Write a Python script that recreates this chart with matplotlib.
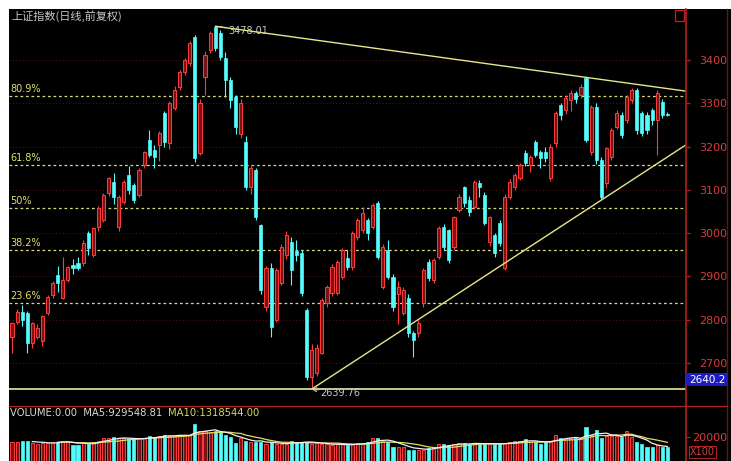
import numpy as np
import pandas as pd
import matplotlib
matplotlib.use("Agg")
import matplotlib.pyplot as plt
from matplotlib.patches import Rectangle
from matplotlib.lines import Line2D

# ---- data ----
opens = [2760, 2795, 2818, 2815, 2746, 2760, 2750, 2815, 2857, 2903,
         2850, 2892, 2926, 2932, 2931, 3000, 2949, 3014, 3030, 3093,
         3118, 3014, 3072, 3134, 3111, 3088, 3157, 3215, 3192, 3203,
         3277, 3208, 3290, 3338, 3372, 3393, 3453, 3185, 3360, 3423,
         3476, 3462, 3405, 3354, 3314, 3230, 3210, 3106, 3146, 3018,
         2829, 2919, 2799, 2885, 2950, 2980, 2958, 2954, 2822, 2668,
         2677, 2723, 2838, 2862, 2862, 2899, 2942, 2922, 2991, 3007,
         3030, 3014, 3070, 2875, 2961, 2899, 2860, 2815, 2850, 2769,
         2769, 2838, 2933, 2892, 2945, 3014, 3007, 2968, 3053, 3106,
         3076, 3060, 3116, 3088, 2980, 2995, 3023, 2920, 3083, 3106,
         3127, 3185, 3157, 3210, 3187, 3187, 3127, 3208, 3296, 3284,
         3307, 3324, 3319, 3358, 3187, 3291, 3169, 3115, 3176, 3245,
         3273, 3261, 3307, 3330, 3277, 3273, 3284, 3261, 3303, 3275]
highs = [2795, 2825, 2835, 2820, 2795, 2790, 2812, 2856, 2890, 2925,
         2945, 2925, 2940, 2945, 2985, 3005, 3015, 3062, 3092, 3130,
         3140, 3088, 3122, 3155, 3115, 3150, 3190, 3238, 3203, 3235,
         3282, 3305, 3340, 3378, 3405, 3445, 3458, 3310, 3420, 3468,
         3478.01, 3470, 3418, 3360, 3318, 3310, 3225, 3155, 3150, 3020,
         2925, 2930, 2920, 2975, 3005, 2990, 2985, 2960, 2826, 2745,
         2745, 2850, 2880, 2928, 2938, 2965, 2961, 3005, 3035, 3060,
         3035, 3070, 3075, 2975, 2984, 2905, 2890, 2875, 2860, 2775,
         2800, 2920, 2940, 2942, 3016, 3020, 3010, 3040, 3090, 3110,
         3085, 3122, 3123, 3095, 3040, 3000, 3030, 3090, 3125, 3140,
         3162, 3192, 3180, 3215, 3192, 3200, 3205, 3282, 3300, 3320,
         3330, 3328, 3345, 3360, 3295, 3300, 3175, 3200, 3242, 3285,
         3280, 3320, 3335, 3335, 3282, 3280, 3290, 3330, 3310, 3280]
lows = [2723, 2790, 2785, 2723, 2735, 2755, 2740, 2812, 2850, 2865,
        2848, 2888, 2905, 2915, 2925, 2950, 2945, 3005, 3025, 3085,
        3067, 3005, 3068, 3090, 3070, 3083, 3150, 3175, 3150, 3167,
        3200, 3195, 3285, 3330, 3365, 3385, 3165, 3180, 3320, 3415,
        3420, 3400, 3315, 3290, 3230, 3220, 3100, 3090, 3030, 2860,
        2820, 2760, 2795, 2880, 2940, 2880, 2935, 2855, 2660, 2639.76,
        2670, 2720, 2830, 2855, 2858, 2895, 2915, 2915, 2985, 3000,
        2984, 3010, 2940, 2870, 2895, 2820, 2790, 2810, 2760, 2714,
        2760, 2830, 2890, 2885, 2940, 2960, 2930, 2960, 3048, 3060,
        3040, 3055, 3083, 3018, 2970, 2945, 2970, 2915, 3078, 3100,
        3122, 3155, 3141, 3175, 3150, 3165, 3120, 3200, 3262, 3275,
        3282, 3300, 3312, 3210, 3180, 3160, 3079, 3105, 3170, 3240,
        3220, 3255, 3300, 3230, 3225, 3230, 3250, 3180, 3265, 3270]
closes = [2792, 2818, 2799, 2746, 2792, 2781, 2808, 2852, 2885, 2885,
          2892, 2922, 2919, 2920, 2977, 2965, 3012, 3058, 3088, 3127,
          3083, 3083, 3118, 3100, 3077, 3146, 3187, 3180, 3176, 3231,
          3210, 3300, 3331, 3372, 3400, 3439, 3174, 3300, 3411, 3462,
          3428, 3407, 3354, 3308, 3245, 3300, 3106, 3150, 3037, 2868,
          2919, 2783, 2915, 2968, 2995, 2915, 2950, 2862, 2668, 2730,
          2735, 2845, 2875, 2922, 2933, 2961, 2922, 3000, 3030, 3046,
          3000, 3065, 2945, 2968, 2899, 2829, 2875, 2868, 2769, 2753,
          2792, 2915, 2896, 2938, 3012, 2968, 2938, 3037, 3083, 3069,
          3049, 3118, 3106, 3023, 3037, 2954, 2977, 3083, 3118, 3134,
          3157, 3162, 3176, 3180, 3173, 3173, 3199, 3277, 3273, 3312,
          3324, 3310, 3338, 3215, 3291, 3169, 3083, 3196, 3238, 3277,
          3226, 3314, 3330, 3238, 3231, 3238, 3261, 3324, 3273, 3273]
volumes = [16000, 16000, 17000, 17000, 15000, 14000, 15000, 15000, 16000, 16000,
           17000, 16000, 13000, 13000, 16000, 14000, 16000, 17000, 19000, 19000,
           20000, 19000, 19000, 18000, 18000, 19000, 19000, 21000, 20000, 21000,
           22000, 21000, 21000, 22000, 21000, 22000, 31000, 25000, 25000, 24000,
           25000, 24000, 22000, 20000, 15000, 19000, 17000, 16000, 16000, 16000,
           14000, 16000, 14000, 14000, 14000, 17000, 16000, 16000, 16000, 14000,
           15000, 14000, 14000, 13000, 14000, 14000, 13000, 14000, 15000, 15000,
           16000, 19000, 19000, 17000, 16000, 12000, 12000, 12000, 9500, 9500,
           9500, 9500, 10500, 12000, 14000, 14000, 13000, 14000, 15000, 15000,
           14000, 15000, 14000, 14000, 15000, 14000, 14000, 15000, 16000, 17000,
           17000, 18000, 16000, 16000, 14000, 16000, 17000, 22000, 19000, 19000,
           19000, 19000, 19000, 28500, 22000, 25700, 19000, 21000, 21000, 21000,
           20000, 25000, 20000, 16000, 14000, 12000, 12000, 13000, 12000, 11500]

price_high = 3478.01
price_low = 2639.76
fib_levels = [0.236, 0.382, 0.5, 0.618, 0.809]
fib_labels = ["23.6%", "38.2%", "50%", "61.8%", "80.9%"]
price_ticks = [2700, 2800, 2900, 3000, 3100, 3200, 3300, 3400]
upper_trend_end = 3328   # price where the upper line meets the right axis
lower_trend_end = 3204   # price where the lower line meets the right axis
last_price = 2640.2

W, H = 731, 461
RED_UP = "#ff3c3c"
CYAN = "#54fcfc"
AXRED = "#b02020"
TXTRED = "#d83c3c"


def fx(x):
    return x / W


def fy(y):
    return 1 - y / H


n = len(closes)
idx = np.arange(n)
o = np.array(opens, float)
c = np.array(closes, float)
h = np.array(highs, float)
l = np.array(lows, float)
up = c >= o

fig = plt.figure(figsize=(W / 100, H / 100), dpi=100, facecolor="white")
fig.add_artist(Rectangle((fx(9), 0), 1 - fx(9), fy(9), transform=fig.transFigure,
                         facecolor="black", edgecolor="none", zorder=0))

xlim = ((9 - 12) / 5.08, (686 - 12) / 5.08)

# ---- price panel ----
ax = fig.add_axes([fx(9), fy(400), fx(686) - fx(9), fy(9) - fy(400)])
ax.set_facecolor("none")
ax.set_xlim(*xlim)
ax.set_ylim(2614.5, 3517.8)
for s in ax.spines.values():
    s.set_visible(False)
ax.set_xticks([])
ax.yaxis.tick_right()
ax.set_yticks(price_ticks)
ax.set_yticklabels([str(t) for t in price_ticks])
ax.tick_params(axis="y", colors=AXRED, labelcolor=TXTRED, labelsize=8, length=3,
               width=1, pad=26.5)
for t in ax.get_yticklabels():
    t.set_horizontalalignment("right")
ax.grid(axis="y", color="#4c1010", linestyle=(0, (1, 2)), linewidth=0.8)

# candles
ax.vlines(idx[up], l[up], h[up], color=RED_UP, linewidth=0.8, zorder=3)
ax.vlines(idx[~up], l[~up], h[~up], color=CYAN, linewidth=0.8, zorder=3)
body = np.maximum(np.abs(c - o), 1.5)
ax.bar(idx[up], body[up], bottom=np.minimum(o, c)[up], width=0.62,
       facecolor="#7a1414", edgecolor=RED_UP, linewidth=0.7, zorder=4)
ax.bar(idx[~up], body[~up], bottom=np.minimum(o, c)[~up], width=0.62,
       facecolor=CYAN, edgecolor=CYAN, linewidth=0.5, zorder=4)

# fibonacci levels
for lev, lab in zip(fib_levels, fib_labels):
    p = price_low + lev * (price_high - price_low)
    ax.axhline(p, color="#d8d880", linestyle=(0, (2.2, 2.2)), linewidth=0.9, zorder=2)
    ax.annotate(lab, xy=(0, p), xycoords=ax.get_yaxis_transform(),
                xytext=(1, 2), textcoords="offset pixels", va="bottom", ha="left",
                color="#e0e070", fontsize=7)

# support line at the low
ax.axhline(price_low, color="#d8d890", linewidth=1.3, zorder=2)

# trend lines
hi_i = int(np.argmax(h))
lo_i = int(np.argmin(l))
ax.plot([hi_i, xlim[1]], [price_high, upper_trend_end], color="#e6e68a",
        linewidth=1.0, zorder=5, solid_capstyle="butt")
ax.plot([lo_i, xlim[1]], [price_low, lower_trend_end], color="#e6e68a",
        linewidth=1.0, zorder=5, solid_capstyle="butt")

# high / low labels
ax.annotate(f"{price_high:.2f}", xy=(hi_i, price_high), xytext=(13, -5),
            textcoords="offset pixels", va="center", ha="left", color="#c8c8c8",
            fontsize=7, arrowprops=dict(arrowstyle="-", color="#c8c8c8", lw=0.8,
                                        shrinkA=0, shrinkB=0))
ax.annotate(f"{price_low:.2f}", xy=(lo_i, price_low), xytext=(9, -4),
            textcoords="offset pixels", va="center", ha="left", color="#c8c8c8",
            fontsize=7, arrowprops=dict(arrowstyle="->", color="#c8c8c8", lw=0.8,
                                        shrinkA=0, shrinkB=0))

# ---- volume panel ----
vol = np.array(volumes, float)
axv = fig.add_axes([fx(9), 0, fx(686) - fx(9), fy(418)])
axv.set_facecolor("none")
axv.set_xlim(*xlim)
axv.set_ylim(0, 20000 * (461 - 418) / (461 - 437))
for s in axv.spines.values():
    s.set_visible(False)
axv.set_xticks([])
axv.yaxis.tick_right()
axv.set_yticks([20000])
axv.set_yticklabels(["20000"])
axv.tick_params(axis="y", colors=AXRED, labelcolor=TXTRED, labelsize=8, length=3,
                width=1, pad=26.5)
for t in axv.get_yticklabels():
    t.set_horizontalalignment("right")
axv.bar(idx[up], vol[up], width=0.62, facecolor="#7a1414", edgecolor=RED_UP,
        linewidth=0.7, zorder=3)
axv.bar(idx[~up], vol[~up], width=0.62, facecolor=CYAN, edgecolor=CYAN,
        linewidth=0.5, zorder=3)
ma5 = pd.Series(vol).rolling(5).mean()
ma10 = pd.Series(vol).rolling(10).mean()
axv.plot(idx, ma10, color="#e0e060", linewidth=0.9, zorder=4)
axv.plot(idx, ma5, color="#f0f0f0", linewidth=0.9, zorder=5)

# ---- frame lines & labels ----
fig.add_artist(Line2D([fx(686), fx(686)], [0, fy(9)], color=AXRED, linewidth=1.2))
fig.add_artist(Line2D([fx(727), fx(727)], [0, fy(9)], color="#6a1010", linewidth=1.0))
fig.add_artist(Line2D([fx(9), fx(727)], [fy(406), fy(406)], color=AXRED, linewidth=1.0))
fig.add_artist(Rectangle((fx(675), fy(21)), fx(9), fy(10) - fy(21), transform=fig.transFigure,
                         facecolor="none", edgecolor=AXRED, linewidth=1.0))

fig.text(fx(11), fy(16), "上证指数(日线,前复权)", va="center", ha="left",
         color="#c8c8c8", fontsize=8, family=["Noto Sans CJK SC", "DejaVu Sans"])

fig.add_artist(Rectangle((fx(686), fy(386)), fx(42), fy(373) - fy(386),
                         transform=fig.transFigure, facecolor="#1c1cc0",
                         edgecolor="none", zorder=6))
fig.text(fx(707), fy(379.5), f"{last_price:.1f}", va="center", ha="center",
         color="white", fontsize=7.5, zorder=7)

fig.text(fx(10), fy(413), "VOLUME:0.00  MA5:929548.81", va="center", ha="left",
         color="#d8d8d8", fontsize=7.2)
fig.text(fx(168), fy(413), "MA10:1318544.00", va="center", ha="left",
         color="#d8d860", fontsize=7.2)
fig.text(fx(690), fy(452), "X100", va="center", ha="left", color=TXTRED, fontsize=7,
         bbox=dict(boxstyle="square,pad=0.15", facecolor="none", edgecolor=AXRED,
                   linewidth=0.8))

fig.savefig("out.png", dpi=100, facecolor="white")
